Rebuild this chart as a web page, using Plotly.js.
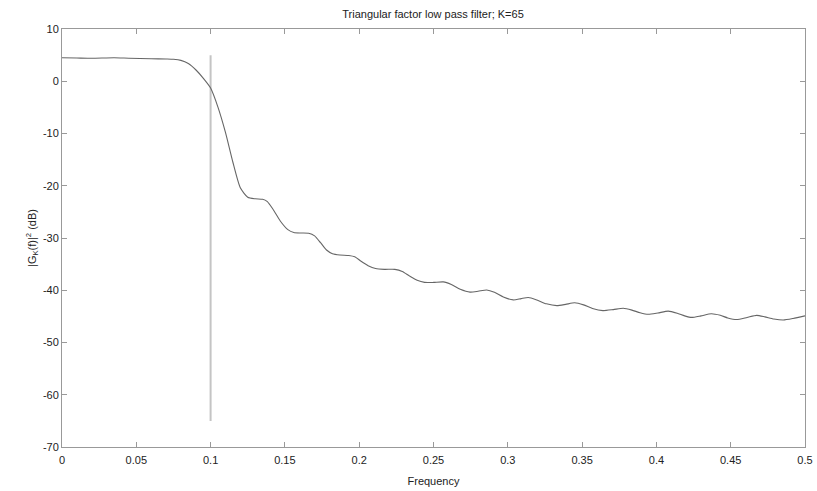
<!DOCTYPE html>
<html>
<head>
<meta charset="utf-8">
<script src="https://cdn.plot.ly/plotly-3.0.1.min.js"></script>
<style>html,body{margin:0;padding:0;background:#fff;}#plot{width:817px;height:491px;}</style>
</head>
<body>
<div id="plot"></div>
<script>
// Frequency response
const freq = [0, 0.01, 0.02, 0.035, 0.045, 0.06, 0.07, 0.075, 0.08, 0.085, 0.09, 0.095, 0.1, 0.105, 0.11, 0.115, 0.12, 0.125, 0.13, 0.135, 0.138, 0.142, 0.147, 0.152, 0.156, 0.161, 0.166, 0.17, 0.174, 0.178, 0.182, 0.187, 0.193, 0.197, 0.201, 0.206, 0.211, 0.217, 0.224, 0.229, 0.234, 0.239, 0.244, 0.25, 0.2566, 0.262, 0.268, 0.2746, 0.28, 0.2858, 0.291, 0.297, 0.3037, 0.309, 0.3138, 0.319, 0.326, 0.333, 0.339, 0.345, 0.351, 0.357, 0.364, 0.371, 0.3777, 0.3835, 0.389, 0.3945, 0.401, 0.408, 0.414, 0.419, 0.4237, 0.43, 0.437, 0.443, 0.448, 0.454, 0.461, 0.4675, 0.473, 0.479, 0.4854, 0.492, 0.5];
const gainDB = [4.5, 4.45, 4.4, 4.5, 4.4, 4.3, 4.25, 4.2, 4.0, 3.4, 2.2, 0.6, -1.3, -5.0, -9.8, -15.5, -20.4, -22.2, -22.5, -22.6, -23.0, -24.5, -26.8, -28.4, -28.95, -29.05, -29.1, -29.6, -30.9, -32.3, -33.0, -33.25, -33.35, -33.6, -34.4, -35.3, -35.85, -36.0, -36.0, -36.4, -37.3, -38.1, -38.5, -38.5, -38.4, -38.9, -39.8, -40.35, -40.2, -39.95, -40.4, -41.3, -41.85, -41.6, -41.4, -41.8, -42.6, -42.95, -42.7, -42.4, -42.8, -43.5, -43.9, -43.7, -43.45, -43.8, -44.3, -44.6, -44.35, -44.0, -44.4, -44.9, -45.2, -44.9, -44.5, -44.8, -45.3, -45.6, -45.2, -44.8, -45.1, -45.5, -45.7, -45.4, -44.9];

// Cutoff marker
const cutoffX = [0.1, 0.1];
const cutoffY = [-65, 5];

const xTicks = [0, 0.05, 0.1, 0.15, 0.2, 0.25, 0.3, 0.35, 0.4, 0.45, 0.5];
const xTickText = ['0', '0.05', '0.1', '0.15', '0.2', '0.25', '0.3', '0.35', '0.4', '0.45', '0.5'];
const yTicks = [-70, -60, -50, -40, -30, -20, -10, 0, 10];
const yTickText = ['-70', '-60', '-50', '-40', '-30', '-20', '-10', '0', '10'];

const fontFam = '"Liberation Sans Narrow", "Liberation Sans", Arial, sans-serif';

const traces = [
  {x: cutoffX, y: cutoffY, mode: 'lines', line: {color: '#c4c4c4', width: 2}, hoverinfo: 'skip'},
  {x: freq, y: gainDB, mode: 'lines', line: {color: '#666666', width: 1.1, shape: 'spline', smoothing: 0.6}}
];

const axisCommon = {
  showgrid: false, zeroline: false, showline: true, mirror: 'ticks',
  linecolor: '#999', linewidth: 1, ticks: 'inside', ticklen: 5, tickcolor: '#999',
  tickfont: {family: fontFam, size: 11, color: '#222'}
};

const layout = {
  width: 817, height: 491,
  margin: {l: 62, r: 12, t: 29, b: 44},
  paper_bgcolor: '#fff', plot_bgcolor: '#fff',
  showlegend: false,
  title: {text: 'Triangular factor low pass filter; K=65', font: {family: fontFam, size: 11, color: '#222'},
          x: 0.53, xanchor: 'center', y: 0.972, yanchor: 'middle'},
  xaxis: Object.assign({}, axisCommon, {
    range: [0, 0.5], tickmode: 'array', tickvals: xTicks, ticktext: xTickText, ticklabelstandoff: 3,
    title: {text: 'Frequency', font: {family: fontFam, size: 11, color: '#222'}, standoff: 12}
  }),
  yaxis: Object.assign({}, axisCommon, {
    range: [-70, 10], tickmode: 'array', tickvals: yTicks, ticktext: yTickText,
    title: {text: '|G<sub>K</sub>(f)|<sup>2</sup> (dB)', font: {family: fontFam, size: 11, color: '#222'}, standoff: 4}
  })
};

Plotly.newPlot('plot', traces, layout, {staticPlot: true, displayModeBar: false});
</script>
</body>
</html>
